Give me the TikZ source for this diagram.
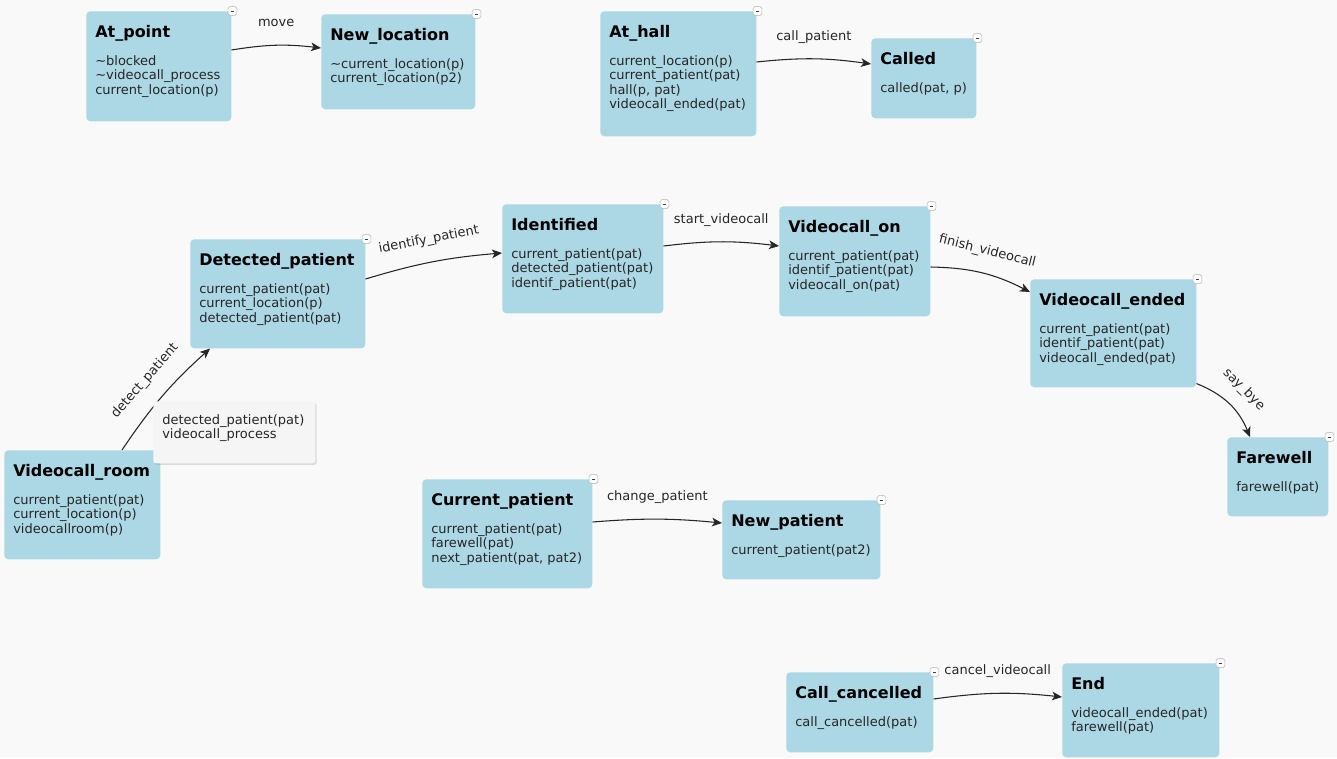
\documentclass[tikz,border=0pt]{standalone}
\usepackage{fontspec}
\setmainfont{DejaVu Sans}
\usetikzlibrary{arrows.meta,shadows}

\definecolor{boxblue}{RGB}{172,215,229}
\definecolor{bggray}{RGB}{249,249,249}
\definecolor{tipgray}{RGB}{245,245,245}

\tikzset{
  state/.style={fill=boxblue, rounded corners=3pt, anchor=north west, inner sep=0pt},
  wh/.style 2 args={minimum width=#1*0.75pt, minimum height=#2*0.75pt},
  ttl/.style={anchor=base west, inner sep=0pt, font=\fontsize{12pt}{14pt}\selectfont\bfseries},
  body/.style={anchor=north west, inner sep=0pt, align=left, text=black!85,
    font=\fontsize{9.75pt}{10.9pt}\selectfont},
  edge/.style={-{Stealth[length=7.5pt,width=6.5pt,inset=2pt]}, black!85, line width=0.8pt},
  lbl/.style={text=black!85, font=\fontsize{9.75pt}{10.9pt}\selectfont,
    text height=7.5pt, text depth=2.25pt, inner sep=2pt},
  minusbtn/.style={draw=black!30, fill=white, rounded corners=1.2pt, minimum size=6.5pt,
    inner sep=0pt, line width=0.4pt,
    path picture={\draw[black!75, line width=0.7pt]
      ([xshift=-1.4pt]path picture bounding box.center) --
      ([xshift=1.4pt]path picture bounding box.center);}},
  tip/.style={fill=tipgray, rounded corners=2pt, anchor=north west, inner sep=0pt,
    drop shadow={opacity=0.25, shadow xshift=1pt, shadow yshift=-1.2pt}}
}

\begin{document}
\begin{tikzpicture}[x=0.75pt,y=-0.75pt]
  \fill[bggray] (0,0) rectangle (1337,758);
  \useasboundingbox (0,0) rectangle (1337,758);

  % Zustaende
  \node[state, wh={145}{110}] (atpoint) at (86,11) {};
  \node[state, wh={154}{95}] (newloc) at (321,14) {};
  \node[state, wh={156}{125}] (athall) at (600,11) {};
  \node[state, wh={105}{80}] (called) at (871,38) {};
  \node[state, wh={175}{109}] (detected) at (190,239) {};
  \node[state, wh={161}{109}] (identified) at (502,204) {};
  \node[state, wh={151}{110}] (vcon) at (779,206) {};
  \node[state, wh={166}{108}] (vcended) at (1030,279) {};
  \node[state, wh={101}{79}] (farewell) at (1227,437) {};
  \node[state, wh={156}{109}] (vcroom) at (4,450) {};
  \node[state, wh={170}{109}] (curpat) at (422,479) {};
  \node[state, wh={158}{79}] (newpat) at (722,500) {};
  \node[state, wh={147}{80}] (callcanc) at (786,672) {};
  \node[state, wh={157}{94}] (endst) at (1062,663) {};

  % Titel
  \node[ttl] (atpoint-t) at ([shift={(9,26)}]atpoint.north west) {At\_point};
  \node[ttl] (newloc-t) at ([shift={(9,26)}]newloc.north west) {New\_location};
  \node[ttl] (athall-t) at ([shift={(9,26)}]athall.north west) {At\_hall};
  \node[ttl] (called-t) at ([shift={(9,26)}]called.north west) {Called};
  \node[ttl] (detected-t) at ([shift={(9,26)}]detected.north west) {Detected\_patient};
  \node[ttl] (identified-t) at ([shift={(9,26)}]identified.north west) {Identified};
  \node[ttl] (vcon-t) at ([shift={(9,26)}]vcon.north west) {Videocall\_on};
  \node[ttl] (vcended-t) at ([shift={(9,26)}]vcended.north west) {Videocall\_ended};
  \node[ttl] (farewell-t) at ([shift={(9,26)}]farewell.north west) {Farewell};
  \node[ttl] (vcroom-t) at ([shift={(9,26)}]vcroom.north west) {Videocall\_room};
  \node[ttl] (curpat-t) at ([shift={(9,26)}]curpat.north west) {Current\_patient};
  \node[ttl] (newpat-t) at ([shift={(9,26)}]newpat.north west) {New\_patient};
  \node[ttl] (callcanc-t) at ([shift={(9,26)}]callcanc.north west) {Call\_cancelled};
  \node[ttl] (endst-t) at ([shift={(9,26)}]endst.north west) {End};

  % Praedikate
  \node[body] (atpoint-b) at ([shift={(9,44)}]atpoint.north west)
    {\textasciitilde blocked\\\textasciitilde videocall\_process\\current\_location(p)};
  \node[body] (newloc-b) at ([shift={(9,44)}]newloc.north west)
    {\textasciitilde current\_location(p)\\current\_location(p2)};
  \node[body] (athall-b) at ([shift={(9,44)}]athall.north west)
    {current\_location(p)\\current\_patient(pat)\\hall(p, pat)\\videocall\_ended(pat)};
  \node[body] (called-b) at ([shift={(9,44)}]called.north west) {called(pat, p)};
  \node[body] (detected-b) at ([shift={(9,44)}]detected.north west)
    {current\_patient(pat)\\current\_location(p)\\detected\_patient(pat)};
  \node[body] (identified-b) at ([shift={(9,44)}]identified.north west)
    {current\_patient(pat)\\detected\_patient(pat)\\identif\_patient(pat)};
  \node[body] (vcon-b) at ([shift={(9,44)}]vcon.north west)
    {current\_patient(pat)\\identif\_patient(pat)\\videocall\_on(pat)};
  \node[body] (vcended-b) at ([shift={(9,44)}]vcended.north west)
    {current\_patient(pat)\\identif\_patient(pat)\\videocall\_ended(pat)};
  \node[body] (farewell-b) at ([shift={(9,44)}]farewell.north west) {farewell(pat)};
  \node[body] (vcroom-b) at ([shift={(9,44)}]vcroom.north west)
    {current\_patient(pat)\\current\_location(p)\\videocallroom(p)};
  \node[body] (curpat-b) at ([shift={(9,44)}]curpat.north west)
    {current\_patient(pat)\\farewell(pat)\\next\_patient(pat, pat2)};
  \node[body] (newpat-b) at ([shift={(9,44)}]newpat.north west) {current\_patient(pat2)};
  \node[body] (callcanc-b) at ([shift={(9,44)}]callcanc.north west) {call\_cancelled(pat)};
  \node[body] (endst-b) at ([shift={(9,44)}]endst.north west)
    {videocall\_ended(pat)\\farewell(pat)};

  % Uebergaenge
  \draw[edge] ([shift={(0,39)}]atpoint.north east) to[bend left=8]
    node[lbl, above=9.5pt] (mv) {move} ([shift={(0,34)}]newloc.north west);
  \draw[edge] ([shift={(0,51)}]athall.north east) to[bend left=7]
    node[lbl, above=9.5pt] (cp) {call\_patient} ([shift={(0,26)}]called.north west);
  \draw[edge] ([shift={(118,0)}]vcroom.north west) to[bend left=7]
    node[lbl, sloped, above=10pt] (dp) {detect\_patient} ([shift={(20,0)}]detected.south west);
  \draw[edge] ([shift={(0,40)}]detected.north east) to[bend left=6]
    node[lbl, sloped, above=9.5pt] (ip) {identify\_patient} ([shift={(0,49)}]identified.north west);
  \draw[edge] ([shift={(0,42)}]identified.north east) to[bend left=7]
    node[lbl, above=9.5pt] (sv) {start\_videocall} ([shift={(0,40)}]vcon.north west);
  \draw[edge] ([shift={(0,61)}]vcon.north east) to[bend left=13]
    node[lbl, sloped, above=9.5pt] (fv) {finish\_videocall} ([shift={(0,13)}]vcended.north west);
  \draw[edge] ([shift={(0,-4)}]vcended.south east) to[bend left=23]
    node[lbl, sloped, above=8pt] (sb) {say\_bye} ([shift={(23,0)}]farewell.north west);
  \draw[edge] ([shift={(0,43)}]curpat.north east) to[bend left=5]
    node[lbl, above=9.5pt] (chp) {change\_patient} ([shift={(0,23)}]newpat.north west);
  \draw[edge] ([shift={(0,27)}]callcanc.north east) to[bend left=7]
    node[lbl, above=9.5pt] (cv) {cancel\_videocall} ([shift={(0,34)}]endst.north west);

  % Knoepfe
  \foreach \n in {atpoint,newloc,athall,called,detected,identified,vcon,
                  vcended,farewell,curpat,newpat,callcanc,endst}
    \node[minusbtn] (\n-m) at ([shift={(1,0)}]\n.north east) {};

  % Tooltip
  \node[tip, wh={162}{62}] (tipbox) at (153,401) {};
  \node[body] (tipbox-b) at ([shift={(9,13)}]tipbox.north west)
    {detected\_patient(pat)\\videocall\_process};
\end{tikzpicture}
\end{document}
